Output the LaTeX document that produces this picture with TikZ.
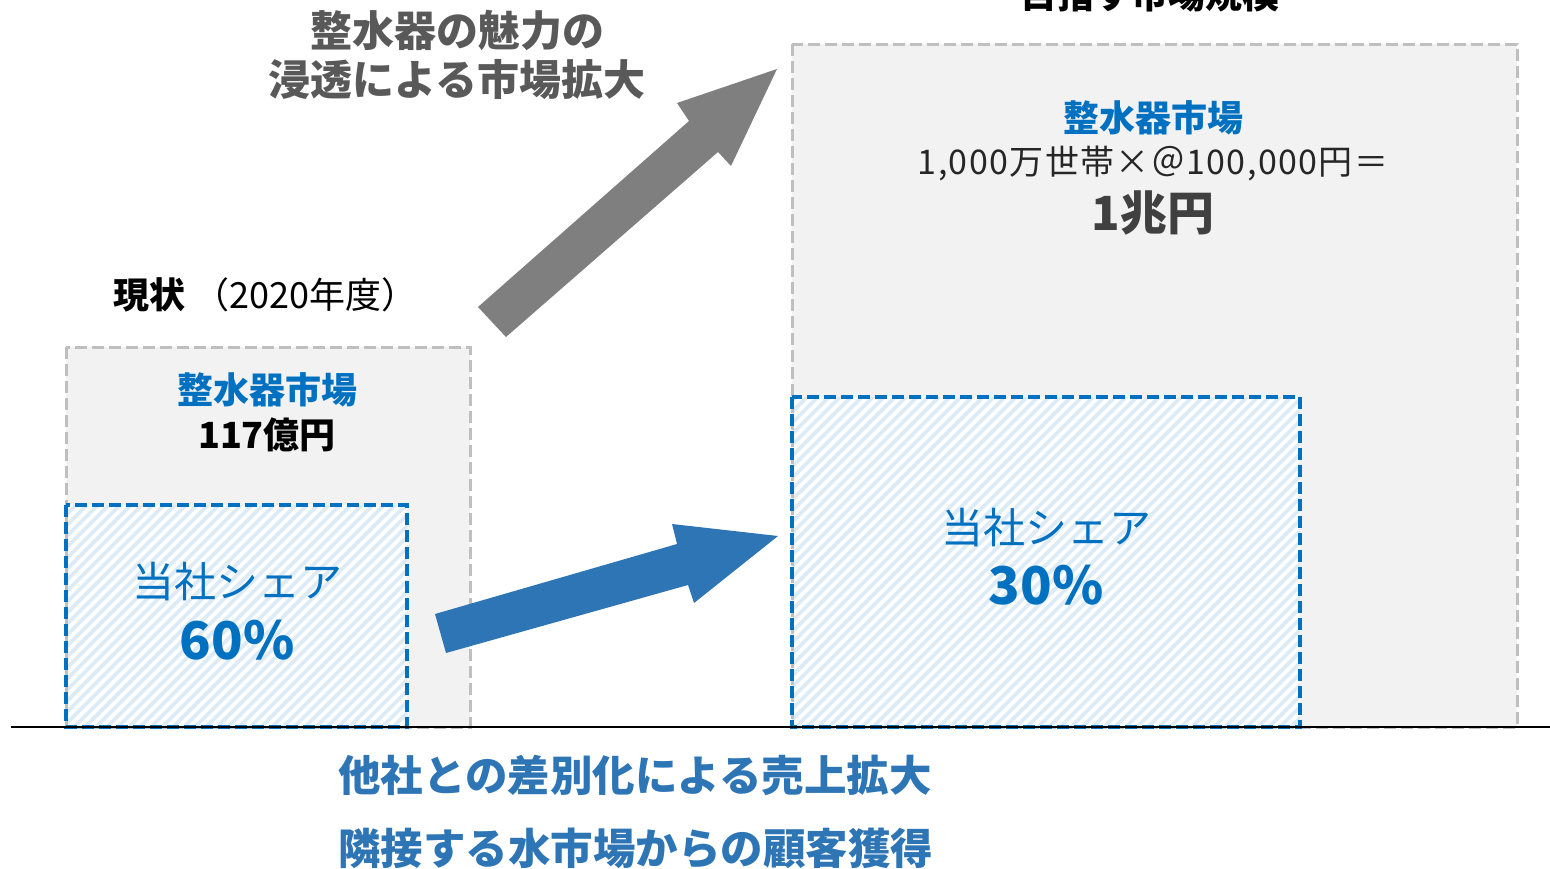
\documentclass[tikz,border=0pt]{standalone}
\usepackage{fontspec}
\setmainfont{Noto Sans CJK JP}
\definecolor{boxgray}{HTML}{F2F2F2}
\definecolor{dashgray}{HTML}{BFBFBF}
\definecolor{mblue}{HTML}{0070C0}
\definecolor{ablue}{HTML}{2E75B6}
\definecolor{stripeblue}{HTML}{DDEBF7}
\definecolor{agray}{HTML}{7F7F7F}
\definecolor{tgray}{HTML}{595959}
\definecolor{dgray}{HTML}{404040}
\tikzset{
  graybox/.style={fill=boxgray},
  grayborder/.style={draw=dashgray,line width=3pt,dash pattern=on 12pt off 5pt},
  blueborder/.style={draw=mblue,line width=3.5pt,dash pattern=on 12pt off 5pt},
  stripeline/.style={stripeblue,line width=3.8pt},
  txt/.style={inner sep=0pt,anchor=center},
  fs/.style={font=\fontsize{#1}{#1}\selectfont},
  fsb/.style={font=\fontsize{#1}{#1}\selectfont\bfseries}
}
\begin{document}
\begin{tikzpicture}[x=1pt,y=-1pt]
\useasboundingbox[fill=white] (0,0) rectangle (1550,868);
% grey market boxes
\path[graybox] (66,347) rectangle (470,727);
\path[graybox] (792,44) rectangle (1517,727);
% hatched share boxes
\fill[white] (66,505) rectangle (407,727);
\fill[white] (792,397) rectangle (1300,727);
\begin{scope}
  \clip (66,505) rectangle (407,727);
  \foreach \i in {-160,-149,...,410} \draw[stripeline] (\i,730) -- ++(230,-230);
\end{scope}
\begin{scope}
  \clip (792,397) rectangle (1300,727);
  \foreach \i in {452,463,...,1305} \draw[stripeline] (\i,730) -- ++(340,-340);
\end{scope}
\draw[grayborder] (66,347) rectangle (470,727);
\draw[grayborder] (792,44) rectangle (1517,727);
\draw[blueborder] (66,505) rectangle (407,727);
\draw[blueborder] (792,397) rectangle (1300,727);
% baseline
\coordinate (bl) at (11,727);
\coordinate (br) at (1550,727);
\draw[black,line width=2pt] (bl) -- (br);
% grey block arrow
\coordinate (g1) at (478,307);
\coordinate (g2) at (689,121);
\coordinate (g3) at (677,103);
\coordinate (gtip) at (777,69);
\coordinate (g4) at (731,166);
\coordinate (g5) at (718,152);
\coordinate (g6) at (506,337);
\fill[agray] (g1) -- (g2) -- (g3) -- (gtip) -- (g4) -- (g5) -- (g6) -- cycle;
% blue block arrow
\coordinate (b1) at (435,614);
\coordinate (b2) at (677,544);
\coordinate (b3) at (672,524);
\coordinate (btip) at (778,536);
\coordinate (b4) at (694,603);
\coordinate (b5) at (688,585);
\coordinate (b6) at (446,653);
\fill[ablue] (b1) -- (b2) -- (b3) -- (btip) -- (b4) -- (b5) -- (b6) -- cycle;
% texts
\node[txt,fsb=37] (title) at (1150,-6) {目指す市場規模};
\node[txt,fsb=42,tgray] (grow1) at (457,30) {整水器の魅力の};
\node[txt,fsb=42,tgray] (grow2) at (457,80) {浸透による市場拡大};
\node[txt,fs=36,anchor=west] (now) at (113,295) {\textbf{現状}\hspace{8pt}（2020年度）};
\node[txt,fsb=36,mblue] (lmk) at (267,390) {整水器市場};
\node[txt,fsb=36] (lval) at (267,435) {117億円};
\node[txt,fs=42,mblue] (lsh) at (237,582) {当社シェア};
\node[txt,fsb=52,mblue] (lpct) at (237,640) {60\%};
\node[txt,fsb=36,mblue] (rmk) at (1153,118) {整水器市場};
\node[txt,fs=34,black!85] (rcalc) at (1153,163) {\addfontfeature{LetterSpace=4}1,000万世帯×＠100,000円＝};
\node[txt,fsb=47,dgray] (rval) at (1153,213) {1兆円};
\node[txt,fs=42,mblue] (rsh) at (1046,528) {当社シェア};
\node[txt,fsb=52,mblue] (rpct) at (1046,585) {30\%};
\node[txt,fsb=42.5,ablue,anchor=west] (b1t) at (338,775) {他社との差別化による売上拡大};
\node[txt,fsb=42.5,ablue,anchor=west] (b2t) at (338,848) {隣接する水市場からの顧客獲得};
\end{tikzpicture}
\end{document}
